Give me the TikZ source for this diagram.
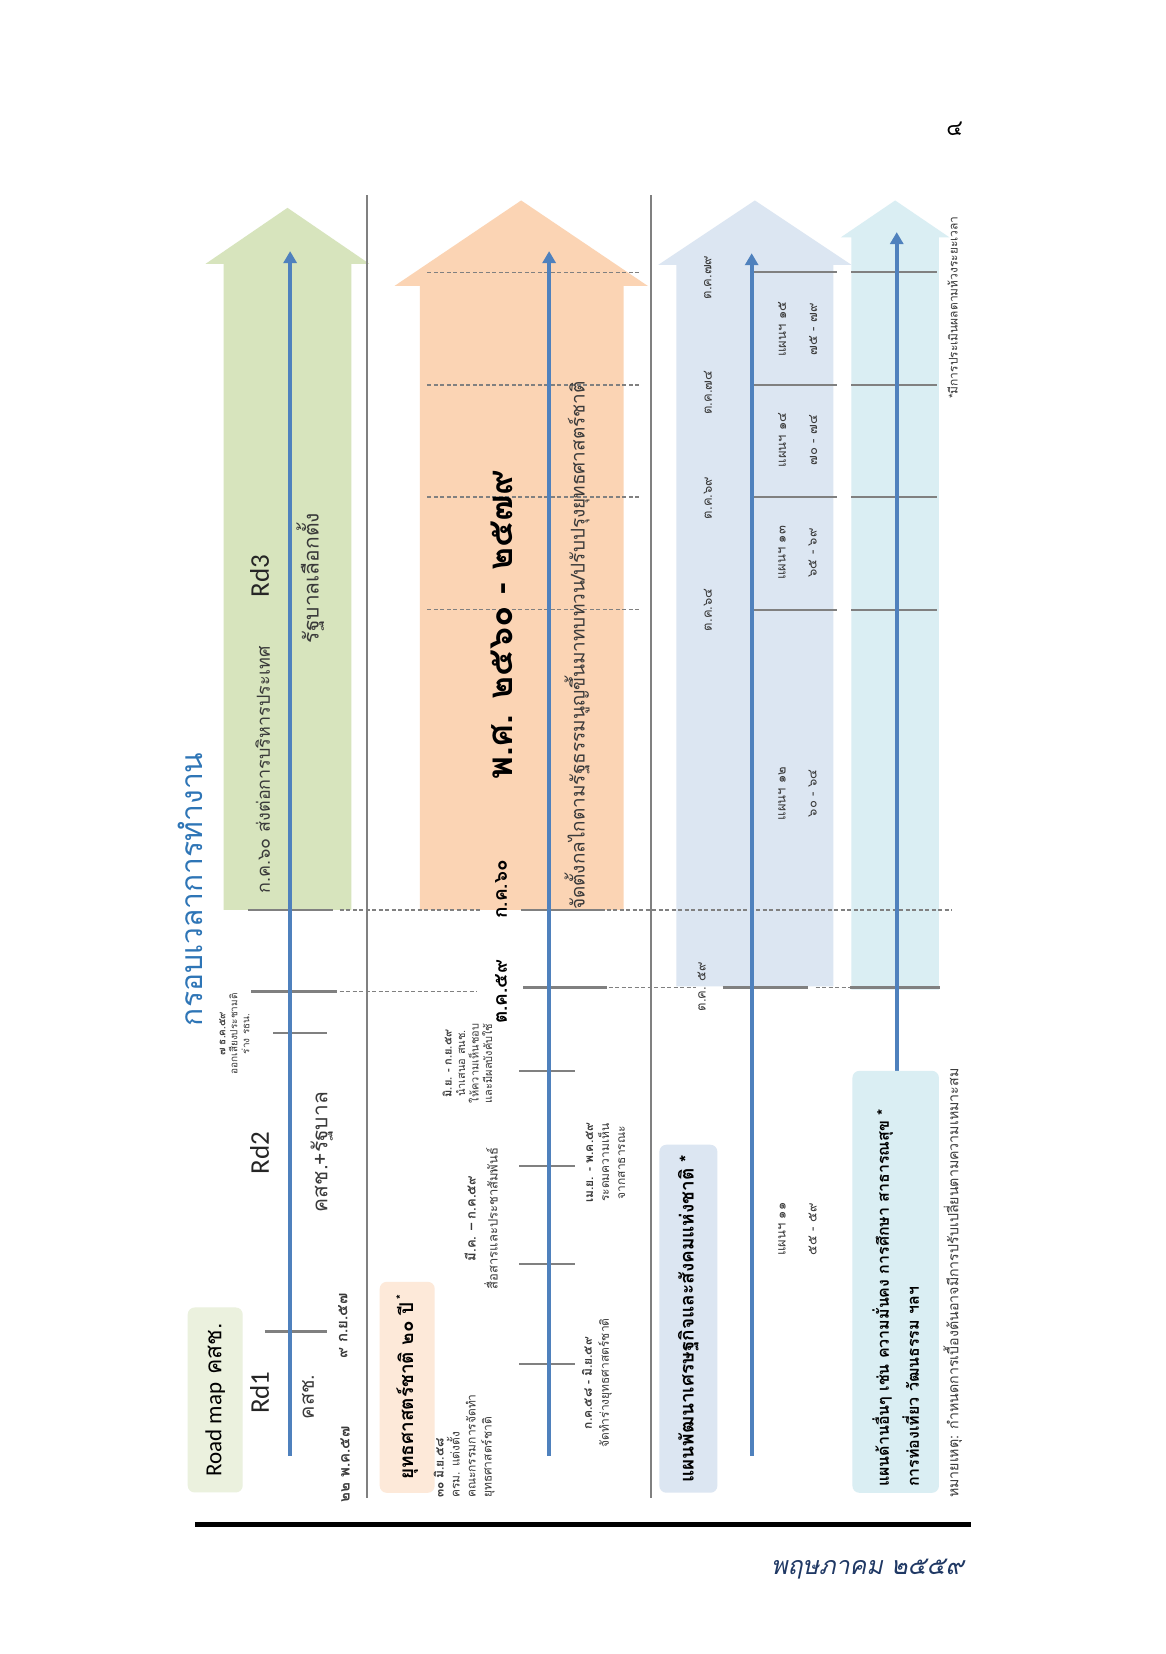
\documentclass[tikz,border=0pt]{standalone}
\usepackage{fontspec}
\setmainfont[Script=Thai]{Loma}
\newfontfamily\lat{Carlito}
\usetikzlibrary{arrows.meta}
\definecolor{tline}{HTML}{4F81BD}
\definecolor{tickc}{HTML}{808080}
\definecolor{grn}{HTML}{D7E4BD}
\definecolor{grnbox}{HTML}{EBF1DE}
\definecolor{org}{HTML}{FBD4B4}
\definecolor{orgbox}{HTML}{FDE9D9}
\definecolor{blu}{HTML}{DCE6F2}
\definecolor{lblu}{HTML}{DAEEF3}
\definecolor{ttl}{HTML}{2E75B6}
\definecolor{footc}{HTML}{1F3864}
\definecolor{txt}{HTML}{3A3A3A}
\newcommand\fz[2]{\fontsize{#1}{#2}\selectfont}
\begin{document}
\begin{tikzpicture}[x=1.055pt,y=-1.055pt,
  rt/.style={rotate=90,inner sep=0pt,text=txt},
  tlinestyle/.style={draw=tline,line width=4pt,-{Triangle[length=12pt,width=13pt]}},
  tickline/.style={draw=tickc,line width=2.5pt},
  dashline/.style={draw=tickc,line width=1.2pt,dash pattern=on 4pt off 2.5pt},
  sepline/.style={draw=tickc,line width=1.5pt},
  boxnode/.style={rt,rounded corners=7pt,text=black}]
\fill[white] (0,0) rectangle (1105.2,1567.8);
\useasboundingbox (0,0) rectangle (1105.2,1567.8);

% big arrows
\fill[grn] (212,862.5) -- (212,250) -- (195,250) -- (272.5,197) -- (350,250) -- (333,250) -- (333,862.5) -- cycle;
\fill[org] (398,862.5) -- (398,271) -- (374,271) -- (494,190) -- (614,271) -- (591,271) -- (591,862.5) -- cycle;
\fill[blu] (641,935) -- (641,251) -- (624,251) -- (715.5,190) -- (807,251) -- (790,251) -- (790,935) -- cycle;
\fill[lblu] (807,938) -- (807,225) -- (797,225) -- (848.5,190) -- (900,225) -- (890,225) -- (890,938) -- cycle;

% separators
\draw[sepline] (348,185) -- (348,1420);
\draw[sepline] (617,185) -- (617,1420);

% roadmap ticks
\draw[tickline] (251,1262) -- (310,1262);
\draw[tickline] (259,979) -- (310,979);
\draw[tickline] (238,940) -- (319,940);
\draw[dashline] (322,940) -- (452,940);
\draw[tickline] (235,862.5) -- (316,862.5);
\draw[dashline] (322,862.5) -- (455,862.5);
% strategy ticks
\draw[tickline] (494,862.5) -- (573,862.5);
\draw[dashline] (575,862.5) -- (902,862.5);
\draw[tickline] (496,936) -- (575,936);
\draw[dashline] (577,936) -- (660,936);
\draw[tickline] (685,936) -- (766,936);
\draw[dashline] (773,936) -- (806,936);
\draw[tickline] (806,936) -- (891,936);
\foreach \yy in {258,365,471,578} {
  \draw[dashline] (405,\yy) -- (608,\yy);
  \draw[tickline] (712,\yy) -- (793,\yy);
  \draw[tickline] (807,\yy) -- (888,\yy);
}
\foreach \yy in {1015,1105,1198,1293} {
  \draw[tickline] (492,\yy) -- (545,\yy);
}

% timelines
\coordinate (r0) at (275,1380); \coordinate (r1) at (275,238);
\coordinate (o0) at (520.5,1380); \coordinate (o1) at (520.5,238);
\coordinate (b0) at (712.5,1380); \coordinate (b1) at (712.5,240);
\coordinate (l0) at (850,1015); \coordinate (l1) at (850,220);
\draw[tlinestyle] (r0) -- (r1);
\draw[tlinestyle] (o0) -- (o1);
\draw[tlinestyle] (b0) -- (b1);
\draw[tlinestyle] (l0) -- (l1);

% title and page
\node[rt,text=ttl,font=\fz{30}{34}] (title) at (180,843) {กรอบเวลาการทำงาน};
\node[font=\fz{22}{26}] (pg) at (905,122) {๔};

% boxes
\node[boxnode,fill=grnbox,minimum width=185pt,minimum height=55pt,font=\fz{23}{26}] (rmbox) at (204,1327) {{\lat Road map} คสช.};
\node[boxnode,fill=orgbox,minimum width=211pt,minimum height=55pt,font=\bfseries\fz{19}{22}] (ysbox) at (386,1315) {ยุทธศาสตร์ชาติ ๒๐ ปี\,{\fz{12}{12}\raisebox{8pt}{*}}};
\node[boxnode,fill=blu,minimum width=348pt,minimum height=58pt,font=\bfseries\fz{19}{22}] (npbox) at (652.5,1250) {แผนพัฒนาเศรษฐกิจและสังคมแห่งชาติ *};
\node[boxnode,fill=lblu,text width=410pt,inner xsep=6pt,minimum height=86.5pt,align=left,font=\bfseries\fz{16}{30}] (otbox) at (849,1215) {แผนด้านอื่นๆ เช่น ความมั่นคง การศึกษา สาธารณสุข *\\การท่องเที่ยว วัฒนธรรม ฯลฯ};

% roadmap labels
\node[rt,text=black!85,font=\lat\fz{27}{30}] (rd1) at (246,1320) {Rd1};
\node[rt,text=black!85,font=\lat\fz{27}{30}] (rd2) at (246,1093) {Rd2};
\node[rt,text=black!85,font=\lat\fz{27}{30}] (rd3) at (246,546) {Rd3};
\node[rt,font=\fz{20}{24}] (ksc) at (292,1324) {คสช.};
\node[rt,font=\bfseries\fz{15}{18}] (d9) at (325,1257) {๙ ก.ย.๕๗};
\node[rt,font=\bfseries\fz{15}{18}] (d22) at (327,1388) {๒๒ พ.ค.๕๗};
\node[rt,font=\fz{21}{24}] (ksgov) at (305,1092) {คสช.+รัฐบาล};
\node[rt,font=\fz{10}{12},align=center] (d7) at (222,980) {\textbf{๗ ธ.ค.๕๙}\\ออกเสียงประชามติ\\ร่าง รธน.};
\node[rt,font=\fz{18}{21}] (jul60) at (249,730) {ก.ค.๖๐ ส่งต่อการบริหารประเทศ};
\node[rt,font=\fz{21}{24}] (elect) at (294,548) {รัฐบาลเลือกตั้ง};

% strategy labels
\node[rt,text=black,font=\bfseries\fz{35}{40}] (years) at (476,592) {พ.ศ. ๒๕๖๐ - ๒๕๗๙};
\node[rt,font=\fz{19}{22}] (mech) at (547,612) {จัดตั้งกลไกตามรัฐธรรมนูญขึ้นมาทบทวน/ปรับปรุงยุทธศาสตร์ชาติ};
\node[rt,text=black,font=\bfseries\fz{19}{22}] (k60) at (475,843) {ก.ค.๖๐};
\node[rt,text=black,font=\bfseries\fz{19}{22}] (t59) at (475,940) {ต.ค.๕๙};
\node[rt,anchor=north west,align=left,font=\fz{12}{16}] (d30) at (411,1420) {\textbf{๓๐ มิ.ย.๕๘}\\ครม. แต่งตั้ง\\คณะกรรมการจัดทำ\\ยุทธศาสตร์ชาติ};
\node[rt,align=center,font=\fz{13}{22}] (mar) at (456,1155) {\textbf{มี.ค. – ก.ค.๕๙}\\สื่อสารและประชาสัมพันธ์};
\node[rt,align=center,font=\fz{11}{13.5}] (jun) at (443,1008) {\textbf{มิ.ย. - ก.ย.๕๙}\\นำเสนอ สนช.\\ให้ความเห็นชอบ\\และมีผลบังคับใช้};
\node[rt,align=center,font=\fz{12}{17}] (jul58) at (566,1311) {\textbf{ก.ค.๕๘ - มิ.ย.๕๙}\\จัดทำร่างยุทธศาสตร์ชาติ};
\node[rt,align=center,font=\fz{12}{16}] (apr) at (574,1102) {\textbf{เม.ย. - พ.ค.๕๙}\\ระดมความเห็น\\จากสาธารณะ};

% plan labels
\node[rt,font=\fz{13}{16}] (o79) at (671,263) {ต.ค.๗๙};
\node[rt,font=\fz{13}{16}] (o74) at (671,372) {ต.ค.๗๔};
\node[rt,font=\fz{13}{16}] (o69) at (671,472) {ต.ค.๖๙};
\node[rt,font=\fz{13}{16}] (o64) at (671,578) {ต.ค.๖๔};
\node[rt,font=\fz{13}{16}] (o59) at (665,935) {ต.ค. ๕๙};
\node[rt,align=center,font=\fz{13}{31}] (p15) at (756,312) {แผนฯ ๑๕\\๗๕ - ๗๙};
\node[rt,align=center,font=\fz{13}{31}] (p14) at (756,417) {แผนฯ ๑๔\\๗๐ - ๗๔};
\node[rt,align=center,font=\fz{13}{31}] (p13) at (756,524) {แผนฯ ๑๓\\๖๕ - ๖๙};
\node[rt,align=center,font=\fz{13}{31}] (p12) at (756,752) {แผนฯ ๑๒\\๖๐ - ๖๔};
\node[rt,align=center,font=\fz{13}{31}] (p11) at (756,1165) {แผนฯ ๑๑\\๕๕ - ๕๙};

% notes
\node[rt,anchor=east,font=\fz{12}{14}] (note1) at (903,205) {*มีการประเมินผลตามห้วงระยะเวลา};
\node[rt,anchor=west,font=\fz{14.2}{16}] (note2) at (903,1420) {หมายเหตุ: กำหนดการเบื้องต้นอาจมีการปรับเปลี่ยนตามความเหมาะสม};

% footer
\coordinate (f0) at (185,1445); \coordinate (f1) at (920,1445);
\draw[line width=5pt] (f0) -- (f1);
\node[anchor=east,text=footc,font=\itshape\fz{25}{28}] (date) at (917,1487) {พฤษภาคม ๒๕๕๙};
\end{tikzpicture}
\end{document}
